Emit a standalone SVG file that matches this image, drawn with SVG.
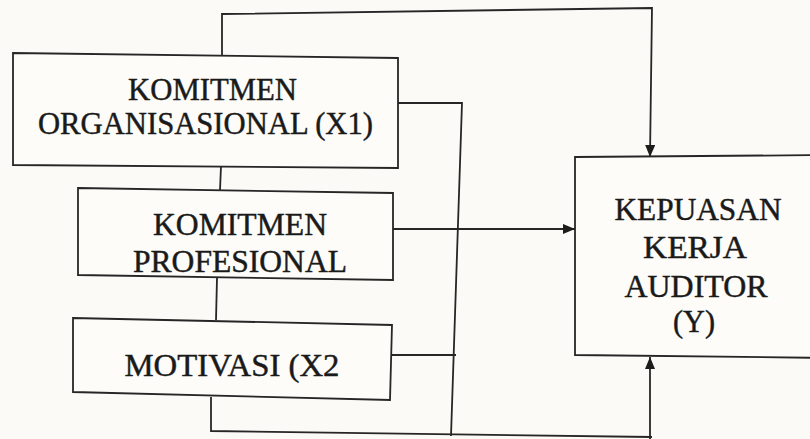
<svg xmlns="http://www.w3.org/2000/svg" width="810" height="439" viewBox="0 0 810 439">
<style>
.bg{fill:#fbfaf6}
.box{fill:#fdfcf8;stroke:#262626;stroke-width:1.8;stroke-linejoin:miter}
.ln{fill:none;stroke:#262626;stroke-width:1.8}
.t{font-family:"Liberation Serif","Times New Roman",serif;font-size:31px;fill:#1a1a1a;stroke:#1a1a1a;stroke-width:0.45;text-anchor:middle}
</style>
<defs>
<marker id="ah" viewBox="0 0 12 10" refX="12" refY="5" markerWidth="12" markerHeight="10" markerUnits="userSpaceOnUse" orient="auto">
<path d="M0,0 L12,5 L0,10 Z" fill="#1c1c1c"/>
</marker>
</defs>
<rect class="bg" x="0" y="0" width="810" height="439"/>
<g id="connectors">
<path class="ln" d="M222,57 L222,14 L652,8 L650,157" marker-end="url(#ah)"/>
<path class="ln" d="M397,103 L462,103 L451,436"/>
<path class="ln" d="M393,229 L575,229" marker-end="url(#ah)"/>
<path class="ln" d="M391,355 L456,355"/>
<path class="ln" d="M221,166 L220,190"/>
<path class="ln" d="M217,278 L216,320"/>
<path class="ln" d="M211,397 L211,431 L652,437"/>
<path class="ln" d="M650,439 L650,357" marker-end="url(#ah)"/>
</g>
<g id="node-x1">
<polygon class="box" points="13,53 398,58 398,168 13,165"/>
<text class="t" x="212.5" y="100" textLength="169" lengthAdjust="spacingAndGlyphs">KOMITMEN</text>
<text class="t" x="205.5" y="134" textLength="335" lengthAdjust="spacingAndGlyphs">ORGANISASIONAL (X1)</text>
</g>
<g id="node-kp">
<polygon class="box" points="78,188 393,193 393,280 78,275"/>
<text class="t" x="240" y="235" textLength="174" lengthAdjust="spacingAndGlyphs">KOMITMEN</text>
<text class="t" x="240" y="272" textLength="214" lengthAdjust="spacingAndGlyphs">PROFESIONAL</text>
</g>
<g id="node-x2">
<polygon class="box" points="73,318 392,325 390,400 73,392"/>
<text class="t" x="232" y="376" textLength="215" lengthAdjust="spacingAndGlyphs">MOTIVASI (X2</text>
</g>
<g id="node-y">
<polygon class="box" points="575,157 830,155 830,358 575,355"/>
<text class="t" x="698" y="220" textLength="167" lengthAdjust="spacingAndGlyphs">KEPUASAN</text>
<text class="t" x="695" y="258" textLength="104" lengthAdjust="spacingAndGlyphs">KERJA</text>
<text class="t" x="696" y="297" textLength="143" lengthAdjust="spacingAndGlyphs">AUDITOR</text>
<text class="t" x="694" y="332" textLength="42" lengthAdjust="spacingAndGlyphs">(Y)</text>
</g>
</svg>
